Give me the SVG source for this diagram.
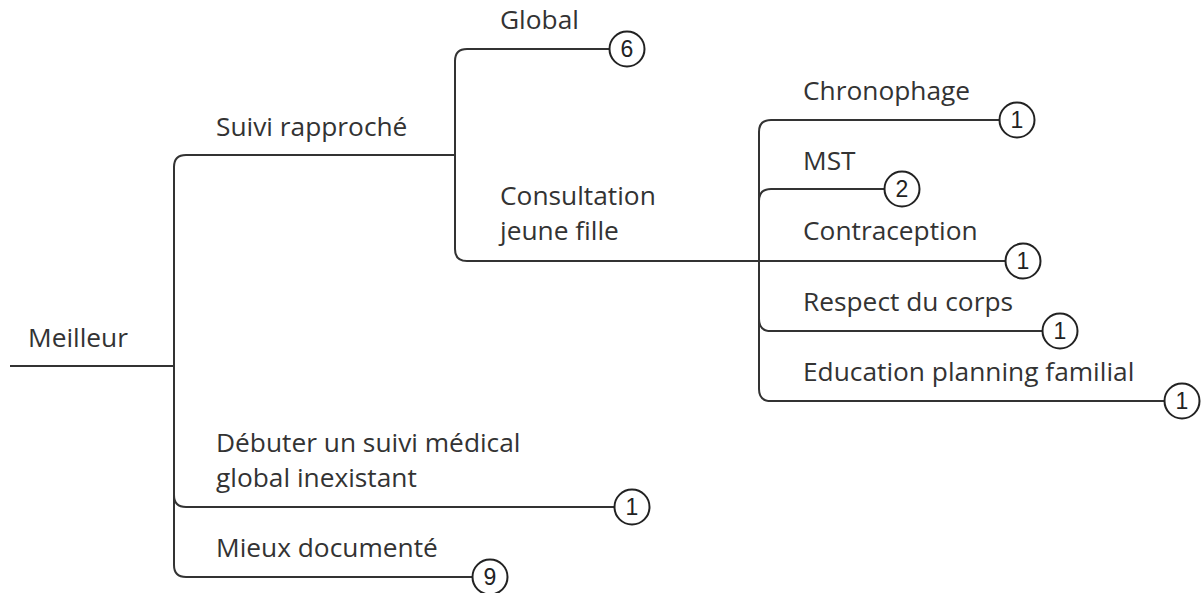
<svg xmlns="http://www.w3.org/2000/svg" width="1203" height="593" viewBox="0 0 1203 593">
<style>
.c{fill:none;stroke:#333;stroke-width:2}
.t{font-family:"Open Sans","Noto Sans",sans-serif;font-size:26.3px;fill:#333}
.b circle{fill:#fff;stroke:#222;stroke-width:2}
.n{font-family:"Liberation Sans",Arial,sans-serif;font-size:23px;fill:#222;text-anchor:middle}
</style>
<rect width="1203" height="593" fill="#fff"/>
<g id="connectors" class="c">
<path d="M10 366H174"/>
<path d="M455 155H186Q174 155 174 167V565Q174 577 186 577H472"/>
<path d="M174 495Q174 507 186 507H614"/>
<path d="M609 49H467Q455 49 455 61V249Q455 261 467 261H1005"/>
<path d="M999 120H771Q759 120 759 132V389Q759 401 771 401H1164"/>
<path d="M884 189H771Q759 189 759 201"/>
<path d="M759 319Q759 331 771 331H1042"/>
</g>
<g id="n-meilleur"><text class="t" x="28" y="347">Meilleur</text></g>
<g id="n-suivi"><text class="t" x="216" y="136">Suivi rapproché</text></g>
<g id="n-global" class="b"><text class="t" x="500" y="29">Global</text><circle cx="627" cy="49" r="17.5"/><text class="n" x="627" y="57">6</text></g>
<g id="n-consultation"><text class="t" x="500" y="205">Consultation</text><text class="t" x="500" y="240">jeune fille</text></g>
<g id="n-chronophage" class="b"><text class="t" x="803" y="100">Chronophage</text><circle cx="1017" cy="120" r="17.5"/><text class="n" x="1017" y="128">1</text></g>
<g id="n-mst" class="b"><text class="t" x="803" y="170">MST</text><circle cx="902" cy="189" r="17.5"/><text class="n" x="902" y="197">2</text></g>
<g id="n-contraception" class="b"><text class="t" x="803" y="240">Contraception</text><circle cx="1023" cy="261" r="17.5"/><text class="n" x="1023" y="269">1</text></g>
<g id="n-respect" class="b"><text class="t" x="803" y="311">Respect du corps</text><circle cx="1060" cy="331" r="17.5"/><text class="n" x="1060" y="339">1</text></g>
<g id="n-education" class="b"><text class="t" x="803" y="381">Education planning familial</text><circle cx="1182" cy="401" r="17.5"/><text class="n" x="1182" y="409">1</text></g>
<g id="n-debuter" class="b"><text class="t" x="216" y="452">Débuter un suivi médical</text><text class="t" x="216" y="487">global inexistant</text><circle cx="632" cy="507" r="17.5"/><text class="n" x="632" y="515">1</text></g>
<g id="n-mieux" class="b"><text class="t" x="216" y="557">Mieux documenté</text><circle cx="490" cy="577" r="17.5"/><text class="n" x="490" y="585">9</text></g>
</svg>
